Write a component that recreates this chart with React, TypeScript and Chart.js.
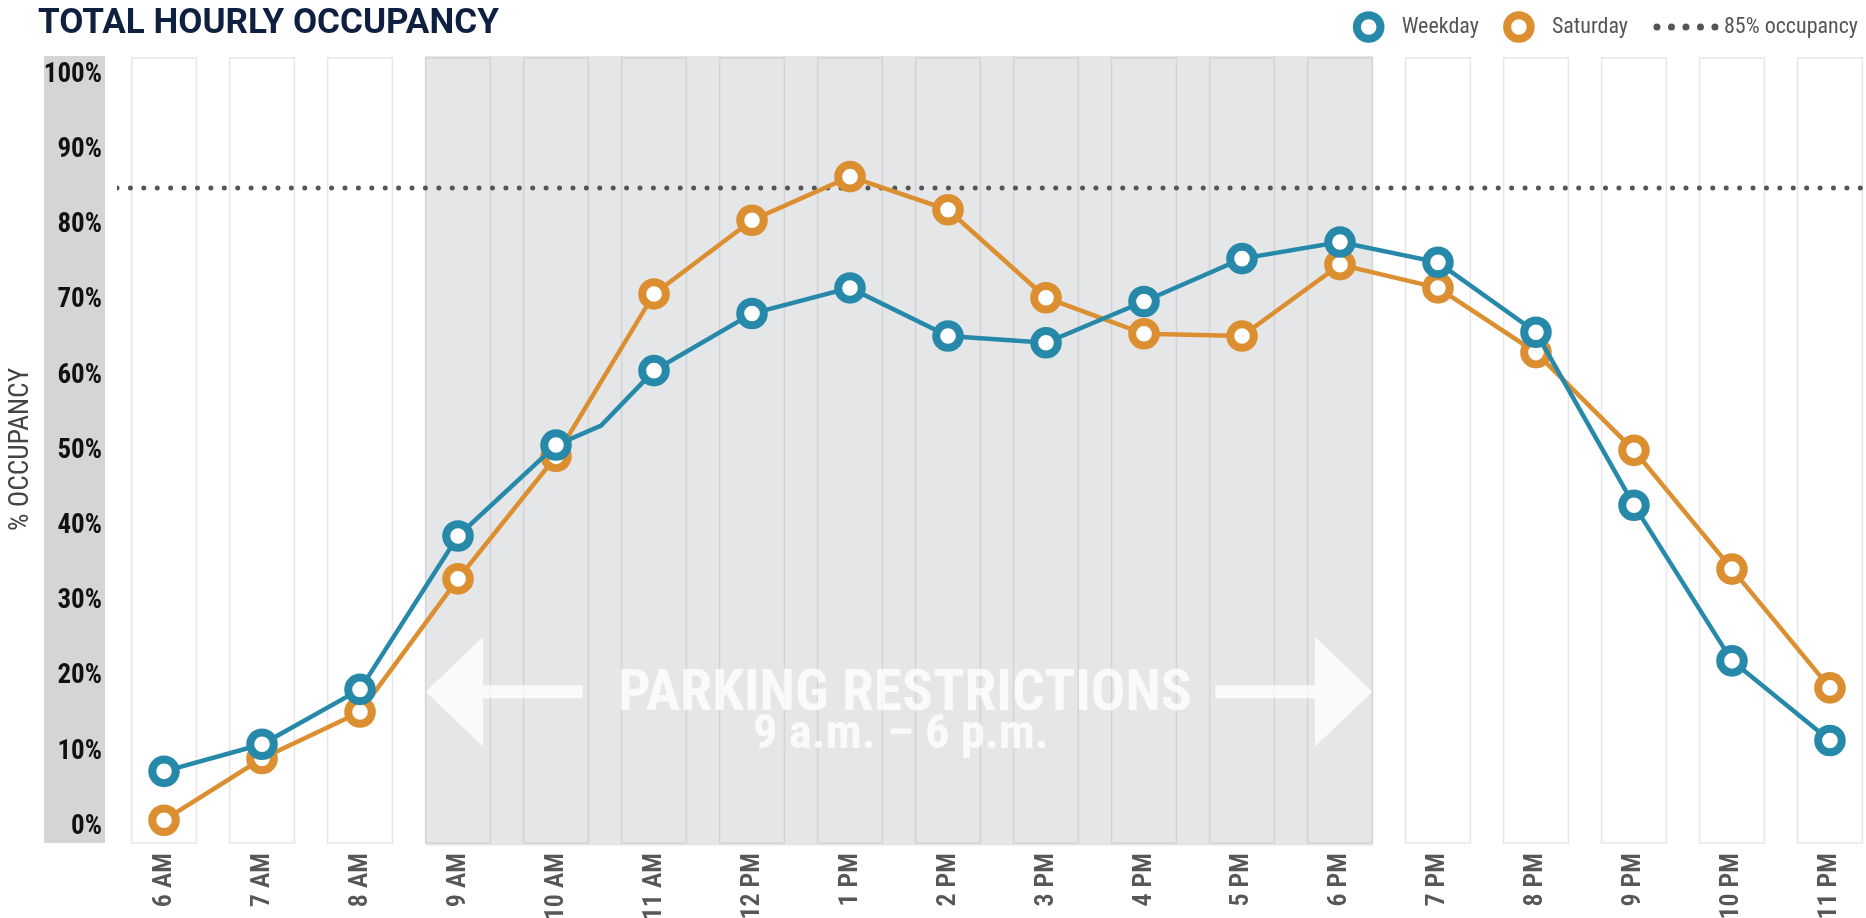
import { useEffect, useRef } from "react";
import { Chart, registerables } from "chart.js";

Chart.register(...registerables);

const TITLE = "TOTAL HOURLY OCCUPANCY";
const HOURS = ["6 AM", "7 AM", "8 AM", "9 AM", "10 AM", "11 AM", "12 PM", "1 PM", "2 PM", "3 PM", "4 PM", "5 PM", "6 PM", "7 PM", "8 PM", "9 PM", "10 PM", "11 PM"];
const WEEKDAY = [7.4, 11.0, 18.3, 38.7, 50.8, 60.7, 68.3, 71.7, 65.3, 64.4, 69.9, 75.6, 77.8, 75.1, 65.8, 42.8, 22.1, 11.5];
const SATURDAY = [0.9, 9.1, 15.3, 33.0, 49.3, 70.9, 80.7, 86.5, 82.1, 70.4, 65.6, 65.3, 74.8, 71.7, 63.1, 50.1, 34.3, 18.5];
// bend in the weekday line between 10 AM and 11 AM, as drawn in the source
const WEEKDAY_BEND = { x: 4.46, y: 53.4 };
const THRESHOLD = 85;
const Y_TICKS = [0, 10, 20, 30, 40, 50, 60, 70, 80, 90, 100];
const RESTRICTION_START = 3; // 9 AM
const RESTRICTION_END = 12; // 6 PM
const RESTRICTION_TEXT = ["PARKING RESTRICTIONS", "9 a.m. – 6 p.m."];
const ARROW_LEVEL = 18;
const LEGEND = ["Weekday", "Saturday", "85% occupancy"];

const X_MIN = -0.48;
const X_MAX = 17.337;
const Y_MIN = -2.13;
const Y_MAX = 102.55;

const BLUE = "#2789a9";
const ORANGE = "#db8f30";
const FAMILY = "Roboto, sans-serif";

const ring = (ctx: CanvasRenderingContext2D, x: number, y: number, color: string) => {
  ctx.beginPath();
  ctx.arc(x, y, 11.8, 0, Math.PI * 2);
  ctx.fillStyle = "#ffffff";
  ctx.fill();
  ctx.lineWidth = 8;
  ctx.strokeStyle = color;
  ctx.stroke();
};

const fitFont = (ctx: CanvasRenderingContext2D, text: string, prefix: string, target: number, start: number) => {
  ctx.font = `${prefix} ${start}px ${FAMILY}`;
  const w = ctx.measureText(text).width;
  const size = (start * target) / w;
  ctx.font = `${prefix} ${size}px ${FAMILY}`;
};

const decor = {
  id: "decor",
  beforeDraw(chart: any) {
    const { ctx, chartArea: ca, scales } = chart;
    const x = scales.x;
    const half = 32.4;
    ctx.save();
    ctx.fillStyle = "#d4d5d7";
    ctx.fillRect(44, ca.top, 61, ca.bottom - ca.top);
    const rx0 = x.getPixelForValue(RESTRICTION_START) - half;
    const rx1 = x.getPixelForValue(RESTRICTION_END) + half;
    ctx.fillStyle = "#e5e6e8";
    ctx.fillRect(rx0, ca.top, rx1 - rx0, ca.bottom + 2.5 - ca.top);
    HOURS.forEach((_, i) => {
      const cx = x.getPixelForValue(i);
      const inR = i >= RESTRICTION_START && i <= RESTRICTION_END;
      ctx.fillStyle = inR ? "#e5e6e8" : "#ffffff";
      ctx.strokeStyle = inR ? "#d2d3d5" : "#e6e6e6";
      ctx.lineWidth = 1.5;
      ctx.fillRect(cx - half, ca.top + 2, half * 2, ca.bottom - ca.top - 2);
      ctx.strokeRect(cx - half, ca.top + 2, half * 2, ca.bottom - ca.top - 2);
    });
    ctx.restore();
  },
  beforeDatasetsDraw(chart: any) {
    const { ctx, scales } = chart;
    const x = scales.x;
    const y = scales.y;
    const half = 32.4;
    const rx0 = x.getPixelForValue(RESTRICTION_START) - half;
    const rx1 = x.getPixelForValue(RESTRICTION_END) + half;
    const cy = y.getPixelForValue(ARROW_LEVEL);
    ctx.save();
    ctx.fillStyle = "rgba(255,255,255,0.78)";
    const arrow = (tip: number, dir: number) => {
      ctx.beginPath();
      ctx.moveTo(tip, cy);
      ctx.lineTo(tip + dir * 57.5, cy - 55);
      ctx.lineTo(tip + dir * 57.5, cy - 6.5);
      ctx.lineTo(tip + dir * 157, cy - 6.5);
      ctx.lineTo(tip + dir * 157, cy + 6.5);
      ctx.lineTo(tip + dir * 57.5, cy + 6.5);
      ctx.lineTo(tip + dir * 57.5, cy + 55);
      ctx.closePath();
      ctx.fill();
    };
    arrow(rx0, 1);
    arrow(rx1, -1);
    const mid = (rx0 + rx1) / 2 + 6;
    ctx.textAlign = "center";
    ctx.textBaseline = "alphabetic";
    fitFont(ctx, RESTRICTION_TEXT[0], "bold condensed", 574, 52);
    ctx.fillText(RESTRICTION_TEXT[0], mid, cy + 18);
    fitFont(ctx, RESTRICTION_TEXT[1], "bold condensed", 296, 46);
    ctx.fillText(RESTRICTION_TEXT[1], mid - 4, cy + 56);
    ctx.restore();
  },
  afterDraw(chart: any) {
    const { ctx, width } = chart;
    ctx.save();
    ctx.fillStyle = "#0e1f3f";
    ctx.textBaseline = "alphabetic";
    ctx.textAlign = "left";
    fitFont(ctx, TITLE, "bold", 461, 35);
    ctx.fillText(TITLE, 38, 32.5);

    // legend
    const ly = 27;
    ctx.font = `condensed 22px ${FAMILY}`;
    ctx.textBaseline = "middle";
    const w0 = ctx.measureText(LEGEND[0]).width;
    const w1 = ctx.measureText(LEGEND[1]).width;
    const w2 = ctx.measureText(LEGEND[2]).width;
    const total = 31 + 17.5 + w0 + 24.5 + 31 + 17.5 + w1 + 25.5 + 65 + 5.5 + w2;
    let cx = width - 8 - total;
    ring(ctx, cx + 15.5, ly, BLUE);
    cx += 31 + 17.5;
    ctx.fillStyle = "#555555";
    ctx.fillText(LEGEND[0], cx, ly);
    cx += w0 + 24.5;
    ring(ctx, cx + 15.5, ly, ORANGE);
    cx += 31 + 17.5;
    ctx.fillStyle = "#555555";
    ctx.fillText(LEGEND[1], cx, ly);
    cx += w1 + 25.5;
    ctx.fillStyle = "#555555";
    for (let i = 0; i < 5; i++) {
      ctx.beginPath();
      ctx.arc(cx + 3.5 + i * 14.5, ly, 3.5, 0, Math.PI * 2);
      ctx.fill();
    }
    cx += 65 + 5.5;
    ctx.fillText(LEGEND[2], cx, ly);
    ctx.restore();
  },
};

export default function App() {
  const ref = useRef<HTMLCanvasElement | null>(null);
  useEffect(() => {
    document.body.style.margin = "0";
    document.body.style.overflow = "hidden";
    const canvas = ref.current;
    if (!canvas) return;
    const weekdayPts: any[] = WEEKDAY.map((v, i) => ({ x: i, y: v }));
    weekdayPts.splice(5, 0, { ...WEEKDAY_BEND, bend: true });
    const saturdayPts = SATURDAY.map((v, i) => ({ x: i, y: v }));
    const chart = new Chart(canvas, {
      type: "line",
      data: {
        datasets: [
          {
            label: LEGEND[0],
            data: weekdayPts,
            borderColor: BLUE,
            borderWidth: 4.5,
            pointBackgroundColor: "#ffffff",
            pointBorderColor: BLUE,
            pointBorderWidth: 8,
            pointRadius: (c: any) => (c.raw && c.raw.bend ? 0 : 11.8),
            tension: 0,
            clip: false as any,
          },
          {
            label: LEGEND[1],
            data: saturdayPts,
            borderColor: ORANGE,
            borderWidth: 4.5,
            pointBackgroundColor: "#ffffff",
            pointBorderColor: ORANGE,
            pointBorderWidth: 8,
            pointRadius: 11.8,
            tension: 0,
            clip: false as any,
          },
          {
            label: LEGEND[2],
            data: [
              { x: X_MIN, y: THRESHOLD },
              { x: X_MAX, y: THRESHOLD },
            ],
            borderColor: "#555555",
            borderWidth: 5,
            borderDash: [0.01, 13.4],
            borderCapStyle: "round",
            pointRadius: 0,
          },
        ],
      },
      options: {
        animation: false,
        responsive: true,
        maintainAspectRatio: false,
        events: [],
        layout: { autoPadding: false, padding: { top: 56, right: 3, left: 0, bottom: 0 } },
        plugins: {
          legend: { display: false },
          title: { display: false },
          tooltip: { enabled: false },
        },
        scales: {
          x: {
            type: "linear",
            min: X_MIN,
            max: X_MAX,
            grid: { display: false, drawTicks: false },
            border: { display: false },
            afterBuildTicks: (s: any) => {
              s.ticks = HOURS.map((_, i) => ({ value: i }));
            },
            afterFit: (s: any) => {
              s.height = 75;
              s.paddingLeft = 0;
              s.paddingRight = 0;
            },
            ticks: {
              autoSkip: false,
              minRotation: 90,
              maxRotation: 90,
              padding: 10,
              color: "#575757",
              font: { family: FAMILY, size: 26, weight: "600 condensed" },
              callback: (v: any) => HOURS[Math.round(Number(v))] ?? "",
            },
          },
          y: {
            type: "linear",
            min: Y_MIN,
            max: Y_MAX,
            grid: { display: false, drawTicks: false },
            border: { display: false },
            afterBuildTicks: (s: any) => {
              s.ticks = Y_TICKS.map((v) => ({ value: v }));
            },
            afterFit: (s: any) => {
              s.width = 117;
              s.paddingTop = 0;
              s.paddingBottom = 0;
            },
            ticks: {
              padding: 15,
              color: "#111111",
              font: { family: FAMILY, size: 27, weight: "bold condensed" },
              callback: (v: any) => `${v}%`,
            },
            title: {
              display: true,
              text: "% OCCUPANCY",
              color: "#444444",
              padding: { top: 5, bottom: 0 },
              font: { family: FAMILY, size: 27.5, weight: "normal condensed" },
            },
          },
        },
      },
      plugins: [decor],
    } as any);
    return () => chart.destroy();
  }, []);
  return (
    <div style={{ width: 1866, height: 918, position: "relative" }}>
      <canvas ref={ref} style={{ display: "block" }} />
    </div>
  );
}
